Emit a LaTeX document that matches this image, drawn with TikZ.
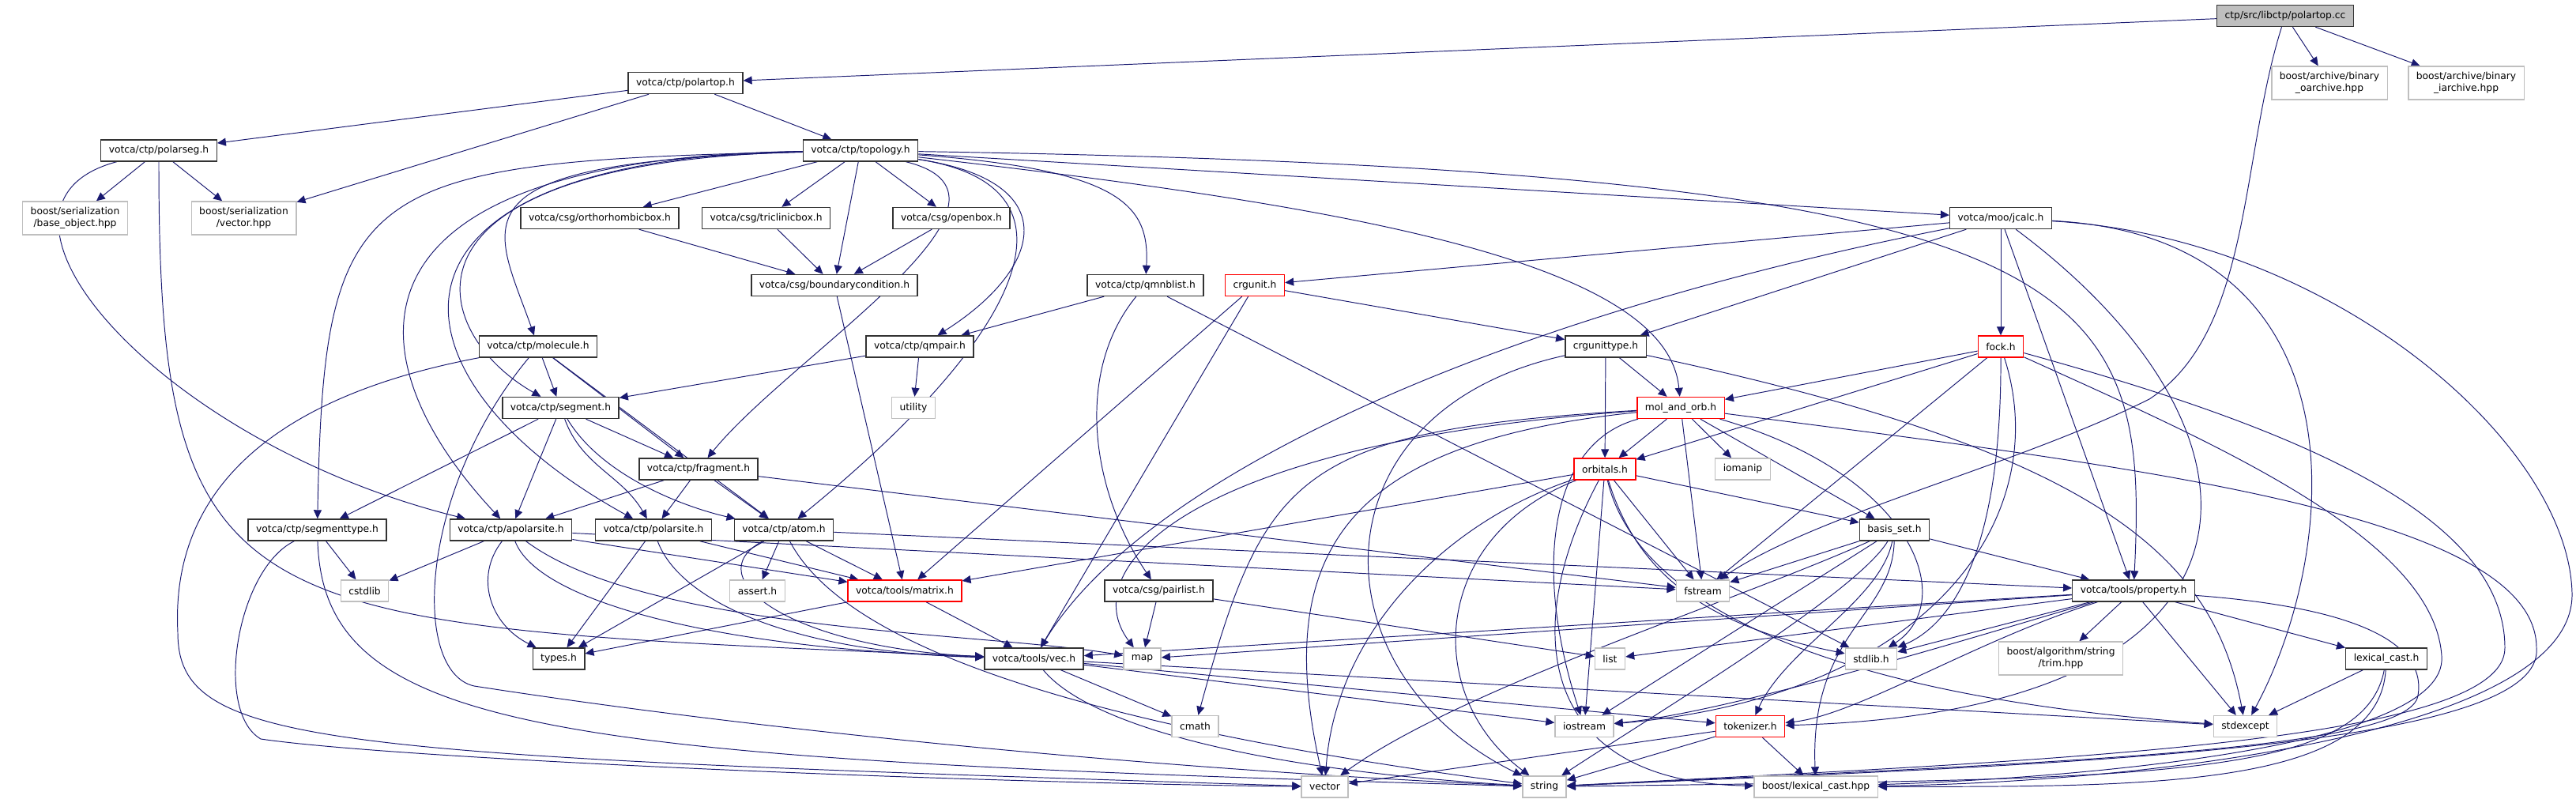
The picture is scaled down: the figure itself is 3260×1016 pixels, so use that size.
\documentclass[tikz,border=0pt]{standalone}
\usepackage{fontspec}
\setmainfont{DejaVu Sans}
\usetikzlibrary{arrows.meta,backgrounds}
\definecolor{edgeblue}{HTML}{191970}
\definecolor{leafgray}{HTML}{BFBFBF}
\tikzset{
  file/.style={draw=black!80, line width=0.8pt, fill=white, font=\fontsize{7}{8.5}\selectfont,
    inner xsep=0.2cm, inner ysep=0pt, minimum height=0.54cm, align=center},
  redfile/.style={file, draw=red},
  sysfile/.style={file, draw=leafgray},
  twoline/.style={minimum height=0.84cm},
  srcfile/.style={file, fill=leafgray},
  inc/.style={draw=edgeblue, line width=0.55pt, -{Triangle[length=0.22cm,width=0.2cm]}},
}
\begin{document}
\begin{tikzpicture}[x=0.02cm, y=0.02cm]
  \useasboundingbox (0,0) rectangle (3260,-1016);

  % files, top to bottom
  \node[srcfile] (cc) at (2892,-20) {ctp/src/libctp/polartop.cc};
  \node[file] (ptop) at (867.5,-105) {votca/ctp/polartop.h};
  \node[sysfile,twoline] (oar) at (2948,-105) {boost/archive/binary\\\_oarchive.hpp};
  \node[sysfile,twoline] (iar) at (3121,-105) {boost/archive/binary\\\_iarchive.hpp};
  \node[file] (pseg) at (201,-190.5) {votca/ctp/polarseg.h};
  \node[file] (topo) at (1089,-190.5) {votca/ctp/topology.h};
  \node[sysfile,twoline] (bobj) at (95,-276) {boost/serialization\\/base\_object.hpp};
  \node[sysfile,twoline] (svec) at (308.5,-276) {boost/serialization\\/vector.hpp};
  \node[file] (ortho) at (759,-276) {votca/csg/orthorhombicbox.h};
  \node[file] (tric) at (969.5,-276) {votca/csg/triclinicbox.h};
  \node[file] (openb) at (1204,-276) {votca/csg/openbox.h};
  \node[file] (jcalc) at (2532,-276) {votca/moo/jcalc.h};
  \node[file] (bc) at (1056,-361) {votca/csg/boundarycondition.h};
  \node[file] (qmnb) at (1449.5,-361) {votca/ctp/qmnblist.h};
  \node[redfile] (crgu) at (1588,-361) {crgunit.h};
  \node[file] (mol) at (681,-438.5) {votca/ctp/molecule.h};
  \node[file] (qmp) at (1164,-438.5) {votca/ctp/qmpair.h};
  \node[file] (crgt) at (2032,-438.5) {crgunittype.h};
  \node[redfile] (fock) at (2532,-438.5) {fock.h};
  \node[file] (seg) at (709.5,-516) {votca/ctp/segment.h};
  \node[sysfile] (util) at (1156,-516) {utility};
  \node[redfile] (mao) at (2127,-516) {mol\_and\_orb.h};
  \node[file] (frag) at (884,-593.5) {votca/ctp/fragment.h};
  \node[redfile] (orb) at (2031,-593.5) {orbitals.h};
  \node[sysfile] (ioma) at (2205.5,-593.5) {iomanip};
  \node[file] (segt) at (401.5,-670.5) {votca/ctp/segmenttype.h};
  \node[file] (apol) at (646.5,-670.5) {votca/ctp/apolarsite.h};
  \node[file] (pol) at (827,-670.5) {votca/ctp/polarsite.h};
  \node[file] (atom) at (992,-670.5) {votca/ctp/atom.h};
  \node[file] (bas) at (2397.5,-670.5) {basis\_set.h};
  \node[sysfile] (cstd) at (461.5,-747.5) {cstdlib};
  \node[sysfile] (asrt) at (958.5,-747.5) {assert.h};
  \node[redfile] (mat) at (1145,-747.5) {votca/tools/matrix.h};
  \node[file] (pair) at (1466.5,-747.5) {votca/csg/pairlist.h};
  \node[sysfile] (fst) at (2155,-747.5) {fstream};
  \node[file] (prop) at (2700,-747.5) {votca/tools/property.h};
  \node[file] (types) at (707,-833.5) {types.h};
  \node[file] (vec) at (1308.5,-833.5) {votca/tools/vec.h};
  \node[sysfile] (map) at (1445.5,-833.5) {map};
  \node[sysfile] (list) at (2037.5,-833.5) {list};
  \node[sysfile] (stdl) at (2368,-833.5) {stdlib.h};
  \node[sysfile,twoline] (trim) at (2608,-833) {boost/algorithm/string\\/trim.hpp};
  \node[file] (lexh) at (3020,-833.5) {lexical\_cast.h};
  \node[sysfile] (cmath) at (1512.5,-919) {cmath};
  \node[sysfile] (iost) at (2005,-919) {iostream};
  \node[redfile] (tok) at (2215,-919) {tokenizer.h};
  \node[sysfile] (stdx) at (2841.5,-919) {stdexcept};
  \node[sysfile] (vector) at (1676.5,-995.5) {vector};
  \node[sysfile] (string) at (1954.5,-995.5) {string};
  \node[sysfile] (lexhpp) at (2298,-995.5) {boost/lexical\_cast.hpp};

  \begin{pgfonlayer}{background}
  % polartop.cc and polartop.h
  \draw[inc] (cc) -- (ptop);
  \draw[inc] (cc) -- (oar);
  \draw[inc] (cc) -- (iar);
  \draw[inc] (cc) .. controls (2835,-200) and (2850,-420) .. (2720,-505)
                  .. controls (2550,-590) and (2300,-650) .. (fst);
  \draw[inc] (ptop) -- (pseg);
  \draw[inc] (ptop) -- (svec);
  \draw[inc] (ptop) -- (topo);
  \draw[inc] (pseg) -- (bobj);
  \draw[inc] (pseg) -- (svec);
  \draw[inc] (pseg) .. controls (201,-800) and (300,-790) .. (vec);
  \draw[inc] (pseg) .. controls (-60,-260) and (200,-560) .. (apol);

  % topology.h
  \draw[inc] (topo) -- (ortho);
  \draw[inc] (topo) -- (tric);
  \draw[inc] (topo) -- (bc);
  \draw[inc] (topo) -- (openb);
  \draw[inc] (topo) -- (jcalc);
  \draw[inc] (topo) .. controls (450,-205) and (410,-230) .. (segt);
  \draw[inc] (topo) .. controls (420,-200) and (440,-450) .. (apol);
  \draw[inc] (topo) .. controls (440,-200) and (480,-480) .. (pol);
  \draw[inc] (topo) .. controls (480,-205) and (540,-420) .. (seg);
  \draw[inc] (topo) .. controls (560,-205) and (625,-280) .. (mol);
  \draw[inc] (topo) .. controls (1330,-250) and (1000,-450) .. (frag);
  \draw[inc] (topo) .. controls (1350,-230) and (1320,-340) .. (qmp);
  \draw[inc] (topo) .. controls (1380,-235) and (1300,-420) .. (atom);
  \draw[inc] (topo) .. controls (1420,-215) and (1455,-260) .. (qmnb);
  \draw[inc] (topo) .. controls (1700,-260) and (2110,-330) .. (mao);
  \draw[inc] (topo) .. controls (2650,-215) and (2720,-350) .. (prop);

  % boxes
  \draw[inc] (ortho) -- (bc);
  \draw[inc] (tric) -- (bc);
  \draw[inc] (openb) -- (bc);
  \draw[inc] (bc) -- (mat);

  % qmnblist, crgunit, qmpair
  \draw[inc] (qmnb) -- (qmp);
  \draw[inc] (qmnb) .. controls (1360,-470) and (1380,-620) .. (pair);
  \draw[inc] (qmnb) -- (stdl);
  \draw[inc] (crgu) -- (crgt);
  \draw[inc] (crgu) -- (mat);
  \draw[inc] (crgu) -- (vec);
  \draw[inc] (qmp) -- (seg);
  \draw[inc] (qmp) -- (util);

  % jcalc.h
  \draw[inc] (jcalc) -- (crgu);
  \draw[inc] (jcalc) -- (crgt);
  \draw[inc] (jcalc) .. controls (1900,-400) and (1450,-600) .. (vec);
  \draw[inc] (jcalc) -- (fock);
  \draw[inc] (jcalc) -- (prop);
  \draw[inc] (jcalc) .. controls (2900,-550) and (2900,-900) .. (tok);
  \draw[inc] (jcalc) .. controls (3000,-300) and (2960,-700) .. (stdx);
  \draw[inc] (jcalc) .. controls (2950,-300) and (3250,-560) .. (3255,-750)
                     .. controls (3260,-930) and (2700,-990) .. (lexhpp);

  % molecule, segment, fragment
  \draw[inc] (mol) -- (seg);
  \draw[inc] (mol) -- (frag);
  \draw[inc] (mol) -- (atom);
  \draw[inc] (mol) .. controls (250,-520) and (220,-700) .. (225,-800)
                   .. controls (225,-945) and (400,-955) .. (vector);
  \draw[inc] (mol) .. controls (530,-620) and (520,-850) .. (600,-868)
                   .. controls (1000,-930) and (1500,-975) .. (string);
  \draw[inc] (seg) -- (segt);
  \draw[inc] (seg) -- (apol);
  \draw[inc] (seg) to[out=-70,in=120] (pol);
  \draw[inc] (seg) .. controls (760,-600) and (860,-640) .. (atom);
  \draw[inc] (seg) -- (frag);
  \draw[inc] (frag) -- (apol);
  \draw[inc] (frag) -- (pol);
  \draw[inc] (frag) -- (atom);
  \draw[inc] (frag) -- (fst);

  % sites and atoms
  \draw[inc] (segt) -- (cstd);
  \draw[inc] (segt) .. controls (300,-720) and (270,-900) .. (330,-935)
                    .. controls (500,-960) and (1200,-990) .. (vector);
  \draw[inc] (segt) .. controls (410,-930) and (700,-960) .. (string);
  \draw[inc] (apol) -- (cstd);
  \draw[inc] (apol) .. controls (600,-730) and (620,-790) .. (types);
  \draw[inc] (apol) .. controls (680,-760) and (900,-820) .. (vec);
  \draw[inc] (apol) .. controls (820,-800) and (1250,-800) .. (map);
  \draw[inc] (apol) -- (mat);
  \draw[inc] (apol) -- (fst);
  \draw[inc] (pol) -- (types);
  \draw[inc] (pol) .. controls (860,-760) and (1000,-825) .. (vec);
  \draw[inc] (pol) -- (mat);
  \draw[inc] (atom) -- (asrt);
  \draw[inc] (atom) -- (mat);
  \draw[inc] (atom) .. controls (880,-730) and (1000,-820) .. (vec);
  \draw[inc] (atom) -- (types);
  \draw[inc] (atom) .. controls (1060,-800) and (1300,-910) .. (string);
  \draw[inc] (atom) -- (prop);
  \draw[inc] (mat) -- (vec);
  \draw[inc] (mat) -- (types);
  \draw[inc] (pair) -- (map);
  \draw[inc] (pair) -- (list);

  % crgunittype, fock, mol_and_orb
  \draw[inc] (crgt) -- (mao);
  \draw[inc] (crgt) -- (orb);
  \draw[inc] (crgt) .. controls (1660,-520) and (1660,-850) .. (string);
  \draw[inc] (crgt) .. controls (2650,-570) and (2800,-700) .. (stdx);
  \draw[inc] (fock) -- (mao);
  \draw[inc] (fock) -- (orb);
  \draw[inc] (fock) -- (fst);
  \draw[inc] (fock) .. controls (2533,-700) and (2470,-790) .. (stdl);
  \draw[inc] (fock) .. controls (2600,-650) and (2450,-880) .. (iost);
  \draw[inc] (fock) .. controls (2900,-540) and (3170,-650) .. (3170,-820)
                    .. controls (3170,-940) and (2600,-962) .. (string);
  \draw[inc] (fock) .. controls (2800,-560) and (3080,-680) .. (3090,-830)
                    .. controls (3100,-950) and (2600,-985) .. (lexhpp);
  \draw[inc] (mao) -- (orb);
  \draw[inc] (mao) -- (fst);
  \draw[inc] (mao) -- (ioma);
  \draw[inc] (mao) -- (bas);
  \draw[inc] (mao) .. controls (1700,-560) and (1610,-700) .. (vector);
  \draw[inc] (mao) .. controls (1960,-560) and (1940,-720) .. (iost);
  \draw[inc] (mao) .. controls (1640,-545) and (1600,-600) .. (cmath);
  \draw[inc] (mao) .. controls (1500,-560) and (1360,-720) .. (map);
  \draw[inc] (mao) .. controls (2420,-600) and (2480,-760) .. (stdl);
  \draw[inc] (mao) .. controls (2700,-590) and (3210,-650) .. (3210,-820)
                   .. controls (3220,-950) and (2600,-967) .. (string);

  % orbitals.h, basis_set.h
  \draw[inc] (orb) -- (mat);
  \draw[inc] (orb) .. controls (1830,-660) and (1690,-800) .. (vector);
  \draw[inc] (orb) .. controls (1810,-680) and (1800,-880) .. (string);
  \draw[inc] (orb) -- (iost);
  \draw[inc] (orb) -- (fst);
  \draw[inc] (orb) .. controls (2070,-720) and (2150,-790) .. (stdl);
  \draw[inc] (orb) -- (bas);
  \draw[inc] (orb) .. controls (1920,-800) and (1950,-990) .. (lexhpp);
  \draw[inc] (orb) .. controls (2070,-760) and (2300,-880) .. (stdx);
  \draw[inc] (bas) -- (fst);
  \draw[inc] (bas) -- (prop);
  \draw[inc] (bas) .. controls (2200,-760) and (1850,-870) .. (vector);
  \draw[inc] (bas) -- (iost);
  \draw[inc] (bas) .. controls (2350,-750) and (2100,-900) .. (string);
  \draw[inc] (bas) .. controls (2380,-760) and (2260,-820) .. (tok);
  \draw[inc] (bas) .. controls (2395,-780) and (2290,-800) .. (lexhpp);

  % property.h
  \draw[inc] (prop) -- (trim);
  \draw[inc] (prop) -- (stdx);
  \draw[inc] (prop) -- (lexh);
  \draw[inc] (prop) -- (vec);
  \draw[inc] (prop) -- (map);
  \draw[inc] (prop) -- (list);
  \draw[inc] (prop) -- (stdl);
  \draw[inc] (prop) .. controls (2550,-790) and (2200,-900) .. (iost);
  \draw[inc] (prop) .. controls (2500,-810) and (2350,-905) .. (tok);
  \draw[inc] (prop) .. controls (3000,-770) and (3070,-820) .. (3060,-880)
                    .. controls (3050,-950) and (2600,-965) .. (string);

  % vec.h and the rest
  \draw[inc] (vec) -- (cmath);
  \draw[inc] (vec) -- (iost);
  \draw[inc] (vec) -- (tok);
  \draw[inc] (vec) -- (stdx);
  \draw[inc] (vec) .. controls (1380,-920) and (1600,-975) .. (string);
  \draw[inc] (lexh) -- (stdx);
  \draw[inc] (lexh) .. controls (2990,-990) and (2700,-985) .. (string);
  \draw[inc] (lexh) .. controls (3010,-1000) and (2700,-995) .. (lexhpp);
  \draw[inc] (tok) -- (vector);
  \draw[inc] (tok) -- (string);
  \draw[inc] (tok) -- (lexhpp);
  \end{pgfonlayer}
\end{tikzpicture}
\end{document}
